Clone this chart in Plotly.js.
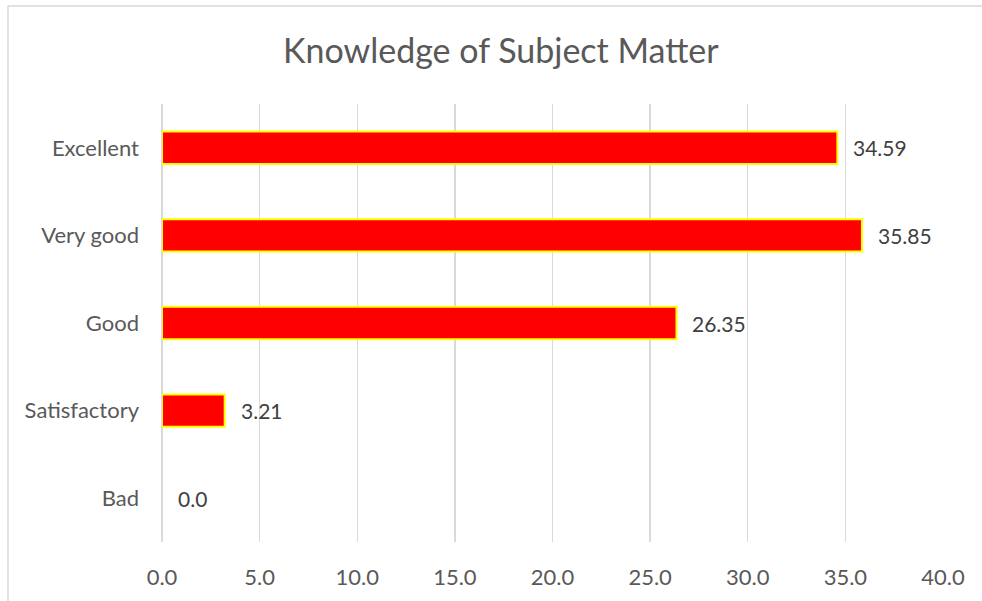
<!DOCTYPE html>
<html>
<head>
<meta charset="utf-8">
<script src="https://cdn.plot.ly/plotly-3.0.1.min.js"></script>
<style>
html,body{margin:0;padding:0;background:#fff;}
#chart{width:982px;height:601px;}
</style>
</head>
<body>
<div id="chart"></div>
<script>
const categories = ["Excellent", "Very good", "Good", "Satisfactory", "Bad"];
const values = [34.59, 35.85, 26.35, 3.21, 0.0];
const labels = ["34.59", "35.85", "26.35", "3.21", "0.0"];
const tickVals = [0, 5, 10, 15, 20, 25, 30, 35, 40];
const tickText = ["0.0", "5.0", "10.0", "15.0", "20.0", "25.0", "30.0", "35.0", "40.0"];

const FONT = "Lato, 'Open Sans', sans-serif";

const trace = {
  type: "bar",
  orientation: "h",
  y: categories,
  x: values,
  marker: {color: "#ff0000", line: {color: "#ffff00", width: values.map(v => v > 0 ? 2 : 0)}},
  hoverinfo: "none"
};

const annotations = categories.map((c, i) => ({
  x: values[i], y: c, xref: "x", yref: "y",
  text: labels[i], showarrow: false,
  xanchor: "left", yanchor: "middle", xshift: 14,
  font: {family: FONT, size: 21, color: "#404040"}
}));

const layout = {
  width: 982, height: 601,
  margin: {l: 162, r: 39, t: 104, b: 59, pad: 0},
  paper_bgcolor: "#ffffff", plot_bgcolor: "#ffffff",
  showlegend: false,
  bargap: 0.63,
  title: {text: "Knowledge of Subject Matter", x: 0.51, xref: "container", xanchor: "center",
          y: 0.915, yref: "container", yanchor: "middle",
          font: {family: FONT, size: 34, color: "#595959"}},
  xaxis: {
    range: [0, 40], tickvals: tickVals, ticktext: tickText,
    showgrid: true, gridcolor: "#d9d9d9", gridwidth: 1.3,
    zeroline: true, zerolinecolor: "#d9d9d9", zerolinewidth: 1.3,
    showline: false, ticks: "", ticklabelstandoff: 20,
    tickfont: {family: FONT, size: 22, color: "#595959"}, fixedrange: true
  },
  yaxis: {
    autorange: "reversed", showgrid: false, zeroline: false, showline: false,
    ticks: "", ticklabelstandoff: 22,
    tickfont: {family: FONT, size: 22, color: "#595959"}, fixedrange: true
  },
  annotations: annotations,
  shapes: [
    {type: "line", xref: "paper", yref: "paper", x0: -0.1972, x1: 1.1, y0: 1.2237, y1: 1.2237,
     line: {color: "#d9d9d9", width: 1.5}},
    {type: "line", xref: "paper", yref: "paper", x0: -0.1972, x1: -0.1972, y0: -0.2, y1: 1.2237,
     line: {color: "#d9d9d9", width: 1.5}}
  ]
};

Plotly.newPlot("chart", [trace], layout, {displayModeBar: false, staticPlot: true});
</script>
</body>
</html>
